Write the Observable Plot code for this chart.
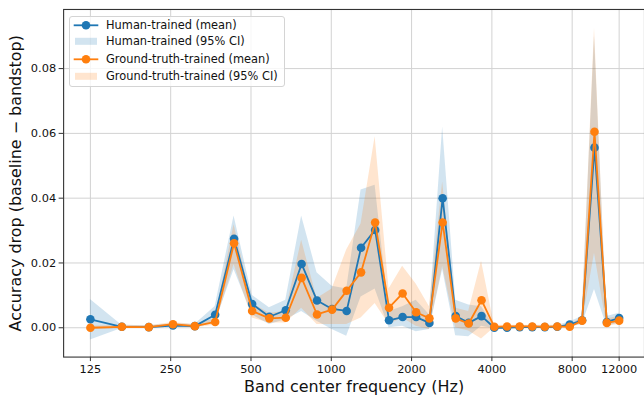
<!DOCTYPE html>
<html><head><meta charset="utf-8">
<script src="https://cdn.jsdelivr.net/npm/d3@7"></script>
<script src="https://cdn.jsdelivr.net/npm/@observablehq/plot@0.6"></script>
<style>
body{margin:0;background:#fff;}
#wrap{position:relative;width:644px;height:399px;overflow:hidden;background:#fff;}
#wrap svg{display:block;}
.legend{position:absolute;left:69px;top:15.5px;width:216px;height:71px;border:1px solid #d4d4d4;border-radius:3px;background:rgba(255,255,255,0.8);box-sizing:border-box;font-family:"DejaVu Sans";font-size:11.4px;color:#111;}
.row{position:absolute;left:0;height:17px;width:100%;}
.row svg{position:absolute;left:3px;top:0;}
.row span{position:absolute;left:36px;top:1px;white-space:nowrap;line-height:15px;}
</style></head>
<body>
<div id="wrap"></div>
<script>
const freqs = [125, 164, 207, 255, 308, 367, 432, 505, 586, 675, 774, 884, 1007, 1142, 1293, 1460, 1646, 1851, 2080, 2333, 2615, 2927, 3274, 3658, 4085, 4559, 5085, 5668, 6316, 7034, 7832, 8717, 9700, 10790, 12000];

const humanMean = [0.0026, 0.0003, 0.0002, 0.0007, 0.0005, 0.0040, 0.0275, 0.0073, 0.0034, 0.0054, 0.0197, 0.0084, 0.0058, 0.0052, 0.0247, 0.0302, 0.0023, 0.0033, 0.0033, 0.0015, 0.0400, 0.0036, 0.0015, 0.0036, 0.0000, 0.0000, 0.0002, 0.0002, 0.0002, 0.0003, 0.0010, 0.0023, 0.0556, 0.0018, 0.0030];
const humanLo = [-0.0038, -0.0002, -0.0002, 0.0002, 0.0000, 0.0015, 0.0180, 0.0040, 0.0010, 0.0025, 0.0050, 0.0020, -0.0005, -0.0026, 0.0095, 0.0120, 0.0000, 0.0005, -0.0012, -0.0005, 0.0180, -0.0025, -0.0028, 0.0005, -0.0003, -0.0003, -0.0002, -0.0002, -0.0002, -0.0001, 0.0003, 0.0010, 0.0118, 0.0005, 0.0015];
const humanHi = [0.0087, 0.0008, 0.0006, 0.0012, 0.0010, 0.0066, 0.0345, 0.0100, 0.0062, 0.0085, 0.0345, 0.0170, 0.0128, 0.0120, 0.0425, 0.0440, 0.0050, 0.0065, 0.0085, 0.0040, 0.0620, 0.0085, 0.0070, 0.0065, 0.0003, 0.0004, 0.0006, 0.0006, 0.0006, 0.0007, 0.0018, 0.0035, 0.0900, 0.0035, 0.0045];

const gtMean = [0.0000, 0.0003, 0.0002, 0.0011, 0.0005, 0.0018, 0.0261, 0.0052, 0.0029, 0.0031, 0.0154, 0.0041, 0.0056, 0.0114, 0.0171, 0.0325, 0.0062, 0.0106, 0.0048, 0.0029, 0.0325, 0.0029, 0.0013, 0.0085, 0.0003, 0.0004, 0.0004, 0.0004, 0.0003, 0.0004, 0.0003, 0.0022, 0.0605, 0.0015, 0.0022];
const gtLo = [-0.0005, -0.0002, -0.0002, 0.0005, 0.0000, 0.0008, 0.0195, 0.0030, 0.0015, 0.0015, 0.0060, 0.0010, 0.0010, 0.0010, 0.0030, 0.0075, 0.0010, 0.0030, 0.0005, -0.0005, 0.0190, 0.0000, -0.0010, -0.0035, 0.0000, 0.0000, 0.0000, 0.0000, 0.0000, 0.0000, -0.0001, 0.0012, 0.0230, 0.0005, 0.0010];
const gtHi = [0.0005, 0.0008, 0.0006, 0.0016, 0.0010, 0.0028, 0.0318, 0.0075, 0.0045, 0.0050, 0.0270, 0.0090, 0.0120, 0.0240, 0.0320, 0.0590, 0.0120, 0.0190, 0.0135, 0.0065, 0.0450, 0.0060, 0.0050, 0.0205, 0.0008, 0.0008, 0.0008, 0.0008, 0.0008, 0.0008, 0.0008, 0.0032, 0.0925, 0.0028, 0.0035];

const xTicks = [125, 250, 500, 1000, 2000, 4000, 8000, 12000];
const yTicks = [0, 0.02, 0.04, 0.06, 0.08];
const xLabel = "Band center frequency (Hz)";
const yLabel = "Accuracy drop (baseline \u2212 bandstop)";
const seriesNames = ["Human-trained (mean)", "Human-trained (95% CI)", "Ground-truth-trained (mean)", "Ground-truth-trained (95% CI)"];

const BLUE = "#1f77b4", ORANGE = "#ff7f0e";
const human = freqs.map((f, i) => ({f, mean: humanMean[i], lo: humanLo[i], hi: humanHi[i]}));
const gt = freqs.map((f, i) => ({f, mean: gtMean[i], lo: gtLo[i], hi: gtHi[i]}));

const chart = Plot.plot({
  width: 646, height: 399,
  marginLeft: 63.3, marginRight: 0, marginTop: 9, marginBottom: 41.3,
  x: {type: "log", domain: [99.2, 14934]},
  y: {domain: [-0.00905, 0.09825]},
  style: {fontFamily: "DejaVu Sans", fontSize: "11.4px", color: "#111", background: "#fff"},
  marks: [
    Plot.gridX(xTicks, {stroke: "#d2d2d2", strokeOpacity: 1, strokeWidth: 1}),
    Plot.gridY(yTicks, {stroke: "#d2d2d2", strokeOpacity: 1, strokeWidth: 1}),
    Plot.areaY(human, {x: "f", y1: "lo", y2: "hi", fill: BLUE, fillOpacity: 0.2}),
    Plot.areaY(gt, {x: "f", y1: "lo", y2: "hi", fill: ORANGE, fillOpacity: 0.2}),
    Plot.line(human, {x: "f", y: "mean", stroke: BLUE, strokeWidth: 1.8}),
    Plot.dot(human, {x: "f", y: "mean", fill: BLUE, stroke: "none", r: 4.3}),
    Plot.line(gt, {x: "f", y: "mean", stroke: ORANGE, strokeWidth: 1.8}),
    Plot.dot(gt, {x: "f", y: "mean", fill: ORANGE, stroke: "none", r: 4.3}),
    Plot.axisX(xTicks, {tickSize: 4.5, tickFormat: () => "", label: null, stroke: "#333"}),
    Plot.text(xTicks, {x: d => d, text: d => String(d), frameAnchor: "bottom", lineAnchor: "top", dy: 7.5, fontSize: 11.4, fill: "#111"}),
    Plot.axisY(yTicks, {tickSize: 4.5, tickPadding: 3, tickFormat: d3.format(".2f"), label: null, stroke: "#333"}),
    Plot.frame({stroke: "#333", strokeWidth: 1.1}),
    Plot.text([xLabel], {text: d => d, frameAnchor: "bottom", lineAnchor: "top", dy: 23.9, fontSize: 16, fill: "#111"}),
    Plot.text([yLabel], {text: d => d, frameAnchor: "left", textAnchor: "middle", rotate: -90, dx: -48.3, fontSize: 16, fill: "#111"})
  ]
});
const wrap = document.getElementById("wrap");
wrap.appendChild(chart);

// legend
const legend = document.createElement("div");
legend.className = "legend";
const rowsTop = [0, 16.7, 34.3, 51];
const kinds = [["line", BLUE], ["patch", BLUE], ["line", ORANGE], ["patch", ORANGE]];
seriesNames.forEach((name, i) => {
  const row = document.createElement("div");
  row.className = "row";
  row.style.top = rowsTop[i] + "px";
  const [kind, col] = kinds[i];
  let sw;
  if (kind === "line") {
    sw = `<svg width="26" height="17"><line x1="0.7" x2="25.3" y1="8.3" y2="8.3" stroke="${col}" stroke-width="1.8"/><circle cx="13" cy="8.3" r="4.3" fill="${col}"/></svg>`;
  } else {
    sw = `<svg width="26" height="17"><rect x="2" y="4.8" width="22" height="7" fill="${col}" fill-opacity="0.2"/></svg>`;
  }
  row.innerHTML = sw + `<span>${name}</span>`;
  legend.appendChild(row);
});
wrap.appendChild(legend);
</script>
</body></html>
